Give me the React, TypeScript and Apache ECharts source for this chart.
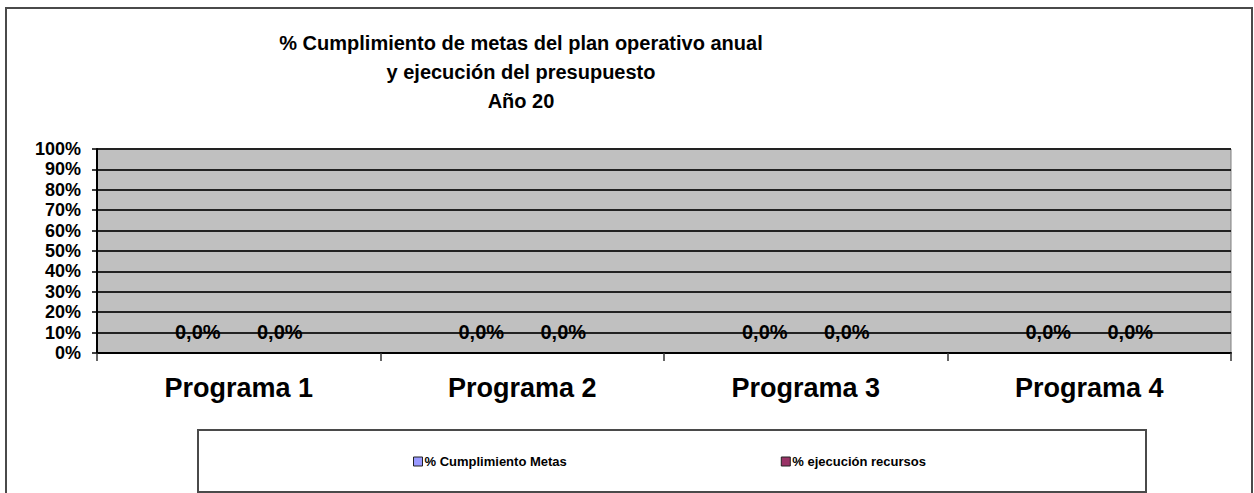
import React, { useEffect, useRef } from "react";
import * as echarts from "echarts";

const titleLines = [
  "% Cumplimiento de metas del plan operativo anual",
  "y ejecución del presupuesto",
  "Año 20",
];
const categories = ["Programa 1", "Programa 2", "Programa 3", "Programa 4"];
const seriesNames = ["% Cumplimiento Metas", "% ejecución recursos"];
const cumplimientoMetas = [0, 0, 0, 0];
const ejecucionRecursos = [0, 0, 0, 0];
const seriesColors = ["#9999FF", "#993366"];

const FONT = "'Liberation Sans', Arial, Helvetica, sans-serif";

const fmtPct = (v: number) => (v * 100).toFixed(1).replace(".", ",") + "%";

export default function App() {
  const ref = useRef<HTMLDivElement>(null);
  useEffect(() => {
    if (!ref.current) return;
    const chart = echarts.init(ref.current, null, { renderer: "svg" });
    const dataSets = [cumplimientoMetas, ejecucionRecursos];
    chart.setOption({
      animation: false,
      backgroundColor: "#ffffff",
      textStyle: { fontFamily: FONT },
      graphic: [
        {
          type: "rect",
          shape: { x: 6, y: 8, width: 1246, height: 520 },
          style: { fill: "none", stroke: "#4a4a4a", lineWidth: 2 },
          silent: true,
          z: -1,
        },
        {
          type: "rect",
          shape: { x: 198, y: 430, width: 948, height: 62 },
          style: { fill: "#ffffff", stroke: "#4a4a4a", lineWidth: 2 },
          silent: true,
          z: -1,
        },
        ...titleLines.map((t, i) => ({
          type: "text",
          x: 521,
          y: 43 + i * 29,
          style: {
            text: t,
            fill: "#000",
            font: `bold 20px ${FONT}`,
            textAlign: "center",
            textVerticalAlign: "middle",
          },
        })),
      ],
      legend: {
        data: seriesNames,
        left: 413,
        top: 455,
        padding: 0,
        itemWidth: 9,
        itemHeight: 9,
        itemGap: 214,
        icon: "rect",
        itemStyle: { borderColor: "#222", borderWidth: 1 },
        textStyle: { fontSize: 13, fontWeight: "bold", color: "#000", fontFamily: FONT, padding: [0, 0, 0, -3] },
      },
      grid: {
        left: 97,
        right: 23,
        top: 149,
        bottom: 140,
        show: true,
        backgroundColor: "#c0c0c0",
        borderColor: "#808080",
        borderWidth: 1,
      },
      xAxis: {
        type: "category",
        data: categories,
        boundaryGap: true,
        axisLine: { show: true, lineStyle: { color: "#000", width: 2 } },
        axisTick: { show: true, interval: 0, length: 8, lineStyle: { color: "#333", width: 1.5 } },
        axisLabel: {
          interval: 0,
          margin: 21,
          fontSize: 27,
          fontWeight: "bold",
          color: "#000",
          fontFamily: FONT,
        },
      },
      yAxis: {
        type: "value",
        min: 0,
        max: 1,
        interval: 0.1,
        axisLine: { show: true, lineStyle: { color: "#000", width: 2 } },
        axisTick: { show: true, length: 5, lineStyle: { color: "#000", width: 1.5 } },
        splitLine: { show: true, lineStyle: { color: "#222", width: 2 } },
        axisLabel: {
          margin: 16,
          fontSize: 18,
          fontWeight: "bold",
          color: "#000",
          fontFamily: FONT,
          formatter: (v: number) => Math.round(v * 100) + "%",
        },
      },
      series: seriesNames.map((name, i) => ({
        name,
        type: "bar",
        data: dataSets[i],
        barWidth: 82,
        barGap: "0%",
        itemStyle: { color: seriesColors[i] },
        label: {
          show: true,
          position: "top",
          distance: 11,
          fontSize: 20,
          fontWeight: "bold",
          color: "#000",
          fontFamily: FONT,
          formatter: (p: any) => fmtPct(p.value),
        },
      })),
    });
    return () => chart.dispose();
  }, []);
  return (
    <div
      ref={ref}
      style={{ position: "fixed", left: 0, top: 0, width: 1254, height: 493 }}
    />
  );
}
